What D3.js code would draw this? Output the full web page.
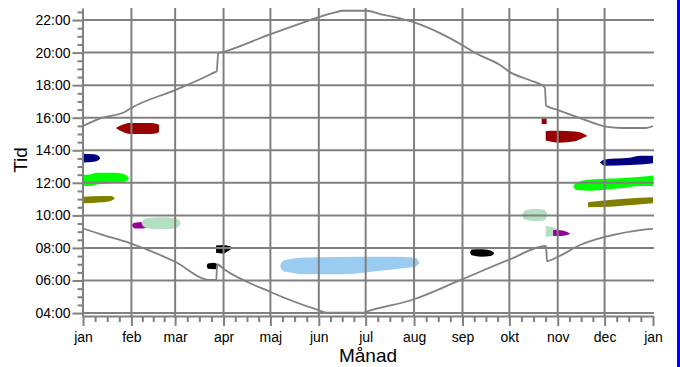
<!DOCTYPE html>
<html>
<head>
<meta charset="utf-8">
<script src="https://cdn.jsdelivr.net/npm/d3@7"></script>
<style>
  body { margin: 0; background: #fff; }
  svg { display: block; font-family: "Liberation Sans", Arial, sans-serif; }
</style>
</head>
<body>
<script>
// labels
var monthLabels = ["jan","feb","mar","apr","maj","jun","jul","aug","sep","okt","nov","dec","jan"];
var hourTicks = [4,6,8,10,12,14,16,18,20,22];

// sun curves: [day of year, hour]
var sunset = [[0,15.49],[11,15.96],[27,16.37],[30,16.55],[59,17.7],[75,18.36],[84.5,18.8],[85.6,18.85],
  [86.6,19.95],[90.3,20.05],[119.7,21.12],[145.4,22.0],[150.5,22.17],[161.4,22.47],[166,22.57],
  [181.7,22.57],[190.2,22.37],[203,22.1],[212,21.86],[228.6,21.2],[244.6,20.36],[249.7,20.05],
  [267,19.24],[273.4,18.8],[286.2,18.3],[295.8,17.85],[296.5,16.75],[304.2,16.47],[318.3,15.98],
  [334.9,15.45],[345,15.37],[360.5,15.37],[365,15.49]];
var sunrise = [[0,9.2],[11,8.85],[30,8.3],[59,7.15],[81.3,6.03],[85.4,6.03],[85.8,7.0],[90.3,6.69],
  [119.7,5.31],[150.5,4.19],[156.3,4.02],[179.3,4.02],[181.2,4.08],[212,4.85],[242.7,6.07],
  [273.4,7.3],[296.5,8.12],[297.1,7.2],[304.2,7.46],[318.3,8.18],[334.9,8.69],[356.7,9.1],[365,9.17]];

// spots: [day of year, low hour, high hour]
var redJan = [[21,15.37,15.37],[25.6,15.12,15.58],[30,15.0,15.67],[43,15.0,15.67],[47.5,15.05,15.62],[48.7,15.15,15.55]];
var navyJan = [[0,13.25,13.78],[7,13.3,13.75],[10,13.4,13.65],[11,13.52,13.52]];
var greenJan = [[0,11.8,12.5],[3,11.8,12.5],[9,11.9,12.62],[20,12.0,12.62],[26,12.05,12.55],[29.7,12.28,12.28]];
var oliveJan = [[0,10.74,11.15],[12,10.8,11.19],[18,10.9,11.19],[20.5,11.05,11.05]];
var purpleFeb = [[31.2,9.41,9.41],[33,9.2,9.55],[38,9.2,9.6],[44,9.3,9.55]];
var paleFeb = [[37.5,9.52,9.52],[38.5,9.33,9.72],[41,9.22,9.82],[45,9.16,9.87],[50,9.15,9.88],[55,9.16,9.87],[59,9.22,9.82],[61.5,9.33,9.72],[62.5,9.52,9.52]];
var blackMar = [[79.2,6.9,6.9],[80,6.72,7.05],[84,6.69,7.09],[86,6.75,7.0]];
var blackApr = [[85.2,7.7,8.15],[90,7.65,8.18],[92,7.75,8.15],[94.5,7.9,8.1]];
var blueJun = [[126.2,6.91,6.91],[128,6.6,7.2],[132,6.5,7.3],[139,6.4,7.4],[165,6.38,7.44],[190,6.6,7.46],[206,6.77,7.45],[213,6.85,7.38],[215.5,7.1,7.1]];
var blackSep = [[247.8,7.72,7.72],[249,7.55,7.9],[255,7.46,7.92],[261,7.5,7.85],[263.4,7.68,7.68]];
var paleOct = [[280.9,10.0,10.0],[283,9.75,10.3],[289,9.65,10.39],[295,9.68,10.36],[297,9.9,10.2]];
var paleNov = [[296.3,8.69,9.35],[300,8.7,9.3],[305,8.75,9.1]];
var purpleNov = [[301,8.75,9.1],[306,8.73,9.08],[310,8.8,8.98],[312,8.88,8.88]];
var redOct = [[293.7,15.61,15.96],[296.9,15.61,15.96]];
var redNov = [[296.3,14.6,15.18],[305,14.46,15.2],[315,14.55,15.15],[320,14.75,15.05],[323,14.87,14.87]];
var navyDec = [[331,13.26,13.26],[334,13.05,13.44],[350,13.09,13.54],[357,13.12,13.66],[365,13.2,13.66]];
var greenDec = [[314,11.78,11.78],[316,11.56,12.02],[325,11.52,12.2],[344,11.66,12.28],[357,11.8,12.37],[365,11.8,12.45]];
var oliveDec = [[323.4,10.5,10.8],[337,10.53,10.94],[357,10.68,11.08],[365,10.74,11.11]];

var spots = [
  [redJan,"#990000"],[navyJan,"#000080"],[greenJan,"#00ff00"],[oliveJan,"#808000"],
  [purpleFeb,"#990099"],[paleFeb,"#b4dfc0"],[blackMar,"#000"],[blackApr,"#000"],
  [blueJun,"#99ccf0"],[blackSep,"#000"],[paleOct,"#b4dfc0"],[paleNov,"#b4dfc0"],
  [purpleNov,"#990099"],[redOct,"#990000"],[redNov,"#990000"],[navyDec,"#000080"],
  [greenDec,"#00ff00"],[oliveDec,"#808000"]
];

var width = 680, height = 367;
var t0 = Date.UTC(2011,0,1);
function day(d){ return new Date(t0 + d*864e5); }

var x = d3.scaleUtc().domain([day(0), day(365)]).range([83,653]);
var y = d3.scaleLinear().domain([3.82,22.74]).range([316,8]);

var svg = d3.select('body').append('svg').attr('width',width).attr('height',height);

// spots go under the grid
var area = d3.area().x(function(d){ return x(day(d[0])); })
  .y0(function(d){ return y(d[1]); }).y1(function(d){ return y(d[2]); })
  .curve(d3.curveMonotoneX);
svg.append('g').selectAll('path').data(spots).join('path')
  .attr('d',function(s){ return area(s[0]); })
  .attr('fill',function(s){ return s[1]; });

// grid
var months = d3.utcMonth.range(day(0), day(366));
var grid = svg.append('g').attr('stroke','#808080').attr('stroke-width',2);
grid.selectAll('.v').data(months.slice(1,12)).join('line')
  .attr('x1',function(d){ return x(d); }).attr('x2',function(d){ return x(d); })
  .attr('y1',8).attr('y2',316);
grid.selectAll('.h').data(hourTicks).join('line')
  .attr('x1',83).attr('x2',654)
  .attr('y1',function(d){ return y(d); }).attr('y2',function(d){ return y(d); });

// sunrise / sunset
var line = d3.line().x(function(d){ return x(day(d[0])); }).y(function(d){ return y(d[1]); })
  .curve(d3.curveMonotoneX);
svg.selectAll('.sun').data([sunset, sunrise]).join('path')
  .attr('d',line).attr('fill','none').attr('stroke','#808080').attr('stroke-width',1.8);

// minor ticks
var minorX = [];
months.slice(0,12).forEach(function(m){
  var n = d3.utcMonth.offset(m,1) - m;
  [0.25,0.5,0.75].forEach(function(f){ minorX.push(new Date(+m + n*f)); });
});
var minorY = d3.range(4,23,0.5).filter(function(h){ return h % 2 != 0; });

var xMinor = svg.append('g').attr('transform','translate(0,316)')
  .call(d3.axisBottom(x).tickValues(minorX).tickSize(6).tickFormat(''));
var yMinor = svg.append('g').attr('transform','translate(82.5,0)')
  .call(d3.axisLeft(y).tickValues(minorY).tickSize(5).tickFormat(''));
xMinor.select('.domain').remove();
yMinor.select('.domain').remove();

// major axes
var xAxis = svg.append('g').attr('transform','translate(0,316)')
  .call(d3.axisBottom(x).tickValues(months).tickSize(10).tickSizeOuter(0).tickPadding(6)
    .tickFormat(function(d,i){ return monthLabels[i]; }));
var yAxis = svg.append('g').attr('transform','translate(82.5,0)')
  .call(d3.axisLeft(y).tickValues(hourTicks).tickSize(10).tickSizeOuter(0).tickPadding(2)
    .tickFormat(function(d){ return (d < 10 ? '0' : '') + d + ':00'; }));

svg.selectAll('.domain, .tick line').attr('stroke','#808080').attr('stroke-width',2);
svg.selectAll('.tick text').attr('fill','#000').style('font-size','14px')
  .style('font-family','"Liberation Sans", Arial, sans-serif');

// titles
svg.append('text').attr('transform','translate(27,160) rotate(-90)')
  .attr('text-anchor','middle').style('font-size','19px').text('Tid');
svg.append('text').attr('x',368).attr('y',362)
  .attr('text-anchor','middle').style('font-size','19px').text('Månad');

// window edge
svg.append('rect').attr('x',677).attr('y',0).attr('width',3).attr('height',height).attr('fill','#0000ff');
</script>
</body>
</html>
